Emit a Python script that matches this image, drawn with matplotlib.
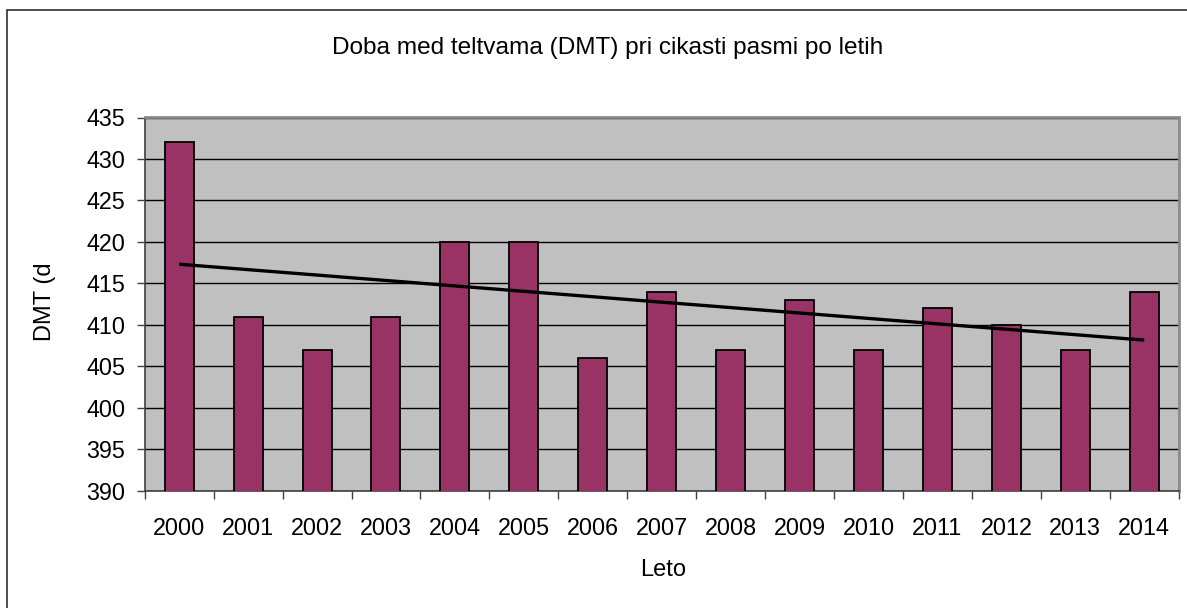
import matplotlib
matplotlib.use("Agg")
import matplotlib.pyplot as plt
from matplotlib.patches import Rectangle
import numpy as np

years = ["2000", "2001", "2002", "2003", "2004", "2005", "2006", "2007",
         "2008", "2009", "2010", "2011", "2012", "2013", "2014"]
dmt = [432, 411, 407, 411, 420, 420, 406, 414, 407, 413, 407, 412, 410, 407, 414]
yticks = [390, 395, 400, 405, 410, 415, 420, 425, 430, 435]

plt.rcParams['font.family'] = ['Liberation Sans', 'DejaVu Sans']

W, H = 1187, 608
fig = plt.figure(figsize=(W / 100, H / 100), dpi=100)
fig.patch.set_facecolor("white")

left, right, top, bottom = 144.7, 1178.7, 117.5, 490.7
ax = fig.add_axes([left / W, (H - bottom) / H, (right - left) / W, (bottom - top) / H])
ax.set_facecolor("#C0C0C0")

x = np.arange(len(years))
ax.bar(x, dmt, width=0.42, bottom=0, color="#993366", edgecolor="black",
       linewidth=1.3, zorder=3)

# linear trend line
coef = np.polyfit(x, dmt, 1)
ax.plot([x[0], x[-1]], np.polyval(coef, [x[0], x[-1]]), color="black",
        linewidth=2.4, zorder=4, solid_capstyle="butt")

ax.set_xlim(-0.5, len(years) - 0.5)
ax.set_ylim(390, 435)
ax.set_yticks(yticks)
ax.yaxis.grid(True, color="black", linewidth=1.0, zorder=1)
ax.set_axisbelow(True)

ax.set_xticks(x)
ax.set_xticklabels(years, fontsize=16.8)
ax.tick_params(axis="x", which="major", length=0, pad=19)
ax.set_xticks(np.arange(-0.5, len(years)), minor=True)
ax.tick_params(axis="x", which="minor", length=6, width=1, color="#404040",
               direction="out")
ax.tick_params(axis="y", length=6, width=1, color="#404040", pad=8,
               labelsize=16.8)

for s in ["left", "bottom"]:
    ax.spines[s].set_color("#404040")
    ax.spines[s].set_linewidth(1.2)
for s in ["top", "right"]:
    ax.spines[s].set_color("#8A8A8A")
    ax.spines[s].set_linewidth(2)

fig.text(608 / W, 1 - 48 / H, "Doba med teltvama (DMT) pri cikasti pasmi po letih",
         ha="center", va="center", fontsize=17.6)
fig.text(663 / W, 1 - 570 / H, "Leto", ha="center", va="center", fontsize=17)
fig.text(45 / W, 1 - 302 / H, "DMT (d", ha="center", va="center", fontsize=17,
         rotation=90)

fig.patches.append(Rectangle((7.3 / W, -0.1), 2, (H - 10) / H + 0.1,
                             transform=fig.transFigure, fill=False,
                             edgecolor="#303030", linewidth=1.2, clip_on=False))

fig.savefig("out.png", dpi=100)
